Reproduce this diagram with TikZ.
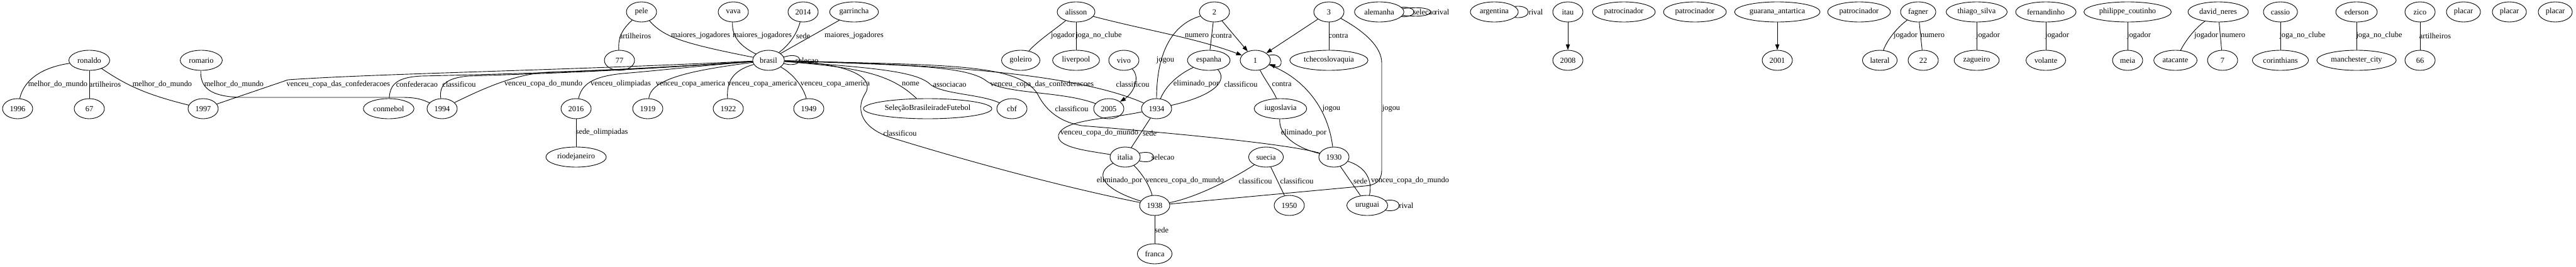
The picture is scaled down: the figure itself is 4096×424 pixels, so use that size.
\documentclass[tikz,border=0pt]{standalone}
\usepackage{fontspec}
\setmainfont{Liberation Serif}
\usetikzlibrary{shapes.geometric,arrows.meta}
\newcommand\tfont{\fontsize{12.4pt}{14pt}\selectfont}
\begin{document}
\begin{tikzpicture}[x=1pt,y=-1pt,
  n/.style={draw, ellipse, line width=0.9pt, minimum height=32pt, minimum width=48pt, inner xsep=4pt, inner ysep=1pt, font=\tfont},
  lbl/.style={font=\tfont, inner sep=0pt},
  e/.style={line width=0.9pt},
  a/.style={line width=0.9pt, -{Triangle[length=9pt,width=6.5pt]}}]
\useasboundingbox (0,0) rectangle (4096,424);
% ---------- nodes ----------
\node[n] (ronaldo) at (142,96) {ronaldo};
\node[n] (romario) at (320,96) {romario};
\node[n] (n1996) at (28,173) {1996};
\node[n] (n67) at (142,173) {67};
\node[n] (n1997) at (323,173) {1997};
\node[n] (conmebol) at (618,173) {conmebol};
\node[n] (n1994) at (703,173) {1994};
\node[n] (n2016) at (916,173) {2016};
\node[n] (rio) at (916,250) {riodejaneiro};
\node[n] (pele) at (1020,19) {pele};
\node[n] (n77) at (985,96) {77};
\node[n] (n1919) at (1030,173) {1919};
\node[n] (vava) at (1166,19) {vava};
\node[n] (n2014) at (1277,19) {2014};
\node[n] (garrincha) at (1358,19) {garrincha};
\node[n] (brasil) at (1222,96) {brasil};
\node[n] (n1922) at (1158,173) {1922};
\node[n] (n1949) at (1286,173) {1949};
\node[n] (selbr) at (1475,173) {SeleçãoBrasileiradeFutebol};
\node[n] (cbf) at (1609,173) {cbf};
\node[n] (alisson) at (1711,19) {alisson};
\node[n] (goleiro) at (1623,96) {goleiro};
\node[n] (liverpool) at (1711,96) {liverpool};
\node[n] (vivo) at (1787,96) {vivo};
\node[n] (n2005) at (1763,173) {2005};
\node[n] (n2) at (1931,19) {2};
\node[n] (n1) at (1996,96) {1};
\node[n] (espanha) at (1922,96) {espanha};
\node[n] (n1934) at (1839,173) {1934};
\node[n] (italia) at (1789,250) {italia};
\node[n] (n1938) at (1836,327) {1938};
\node[n] (franca) at (1836,404) {franca};
\node[n] (iugoslavia) at (2036,173) {iugoslavia};
\node[n] (suecia) at (2013,250) {suecia};
\node[n] (n1950) at (2050,327) {1950};
\node[n] (n3) at (2113,19) {3};
\node[n] (tcheco) at (2113,96) {tchecoslovaquia};
\node[n] (n1930) at (2121,250) {1930};
\node[n] (uruguai) at (2174,327) {uruguai};
\node[n] (alemanha) at (2193,19) {alemanha};
\node[n] (argentina) at (2376,19) {argentina};
\node[n] (itau) at (2493,19) {itau};
\node[n] (n2008) at (2493,96) {2008};
\node[n] (patro1) at (2582,19) {patrocinador};
\node[n] (patro2) at (2695,19) {patrocinador};
\node[n] (guarana) at (2826,19) {guarana\_antartica};
\node[n] (n2001) at (2826,96) {2001};
\node[n] (patro3) at (2956,19) {patrocinador};
\node[n] (fagner) at (3050,19) {fagner};
\node[n] (lateral) at (2989,96) {lateral};
\node[n] (n22) at (3058,96) {22};
\node[n] (thiago) at (3143,19) {thiago\_silva};
\node[n] (zagueiro) at (3143,96) {zagueiro};
\node[n] (fernandinho) at (3253,19) {fernandinho};
\node[n] (volante) at (3253,96) {volante};
\node[n] (philippe) at (3383,19) {philippe\_coutinho};
\node[n] (meia) at (3383,96) {meia};
\node[n] (david) at (3527,19) {david\_neres};
\node[n] (atacante) at (3459,96) {atacante};
\node[n] (n7) at (3534,96) {7};
\node[n] (cassio) at (3626,19) {cassio};
\node[n] (corinthians) at (3626,96) {corinthians};
\node[n] (ederson) at (3747,19) {ederson};
\node[n] (mancity) at (3747,96) {manchester\_city};
\node[n] (zico) at (3848,19) {zico};
\node[n] (n66) at (3848,96) {66};
\node[n] (placar1) at (3917,19) {placar};
\node[n] (placar2) at (3990,19) {placar};
\node[n] (placar3) at (4063,19) {placar};
% ---------- edges ----------
\draw[e] (ronaldo) .. controls (50,110) and (35,140) .. (n1996);
\draw[e] (ronaldo) -- (n67);
\draw[e] (ronaldo) .. controls (200,135) and (230,150) .. (n1997);
\draw[e] (romario) .. controls (318,140) and (335,153) .. (380,155) -- (640,155) .. controls (665,155) and (675,160) .. (n1994);
\draw[e] (n1997) -- (458,127) .. controls (600,117) and (900,112) .. (brasil);
\draw[e] (conmebol) .. controls (620,135) and (630,123) .. (670,121) .. controls (850,117) and (1000,112) .. (brasil);
\draw[e] (n1994) .. controls (698,135) and (710,124) .. (745,121) .. controls (900,116) and (1000,112) .. (brasil);
\draw[e] (n1994) .. controls (770,140) and (820,118) .. (870,115) .. controls (950,112) and (1050,108) .. (brasil);
\draw[e] (n2016) .. controls (925,135) and (940,122) .. (990,117) .. controls (1050,112) and (1100,106) .. (brasil);
\draw[e] (pele) .. controls (985,50) and (983,65) .. (n77);
\draw[e] (pele) .. controls (1055,58) and (1080,68) .. (brasil);
\draw[e] (vava) .. controls (1163,60) and (1180,75) .. (brasil);
\draw[e] (n2014) .. controls (1265,60) and (1250,75) .. (brasil);
\draw[e] (garrincha) -- (brasil);
\draw[e] (brasil) .. controls (1100,112) and (1035,125) .. (n1919);
\draw[e] (brasil) .. controls (1165,112) and (1155,130) .. (n1922);
\draw[e] (brasil) .. controls (1262,118) and (1278,140) .. (n1949);
\draw[e] (brasil.12) .. controls (1280,80) and (1280,110) .. (brasil.-12);
\draw[e] (n2016) -- (rio);
\draw[e] (brasil) .. controls (1380,108) and (1420,122) .. (selbr);
\draw[e] (brasil) .. controls (1400,108) and (1460,115) .. (1480,135) .. controls (1500,150) and (1560,150) .. (cbf);
\draw[e] (brasil) .. controls (1450,104) and (1540,105) .. (1570,130) .. controls (1600,150) and (1690,145) .. (n2005);
\draw[e] (brasil) .. controls (1450,102) and (1700,112) .. (n1934);
\draw[e] (brasil) .. controls (1500,104) and (1620,100) .. (1650,150) .. controls (1665,180) and (1690,195) .. (1720,200) .. controls (1900,215) and (2050,230) .. (n1930);
\draw[e] (brasil) .. controls (1340,100) and (1395,120) .. (1375,150) .. controls (1360,175) and (1370,205) .. (1420,220) .. controls (1550,260) and (1700,300) .. (n1938);
\draw[a] (vivo) .. controls (1815,125) and (1800,150) .. (n2005);
\draw[e] (alisson) .. controls (1680,45) and (1650,65) .. (goleiro);
\draw[e] (alisson) -- (liverpool);
\draw[a] (alisson) .. controls (1830,50) and (1900,60) .. (n1);
\draw[a] (n2) -- (n1);
\draw[e] (n2) -- (espanha);
\draw[e] (n2) .. controls (1860,40) and (1839,90) .. (n1934);
\draw[a] (n3) -- (n1);
\draw[a] (n1.20) .. controls (2042,82) and (2042,112) .. (n1.-15);
\draw[e] (n1) .. controls (2010,125) and (2025,145) .. (iugoslavia);
\draw[e] (n1) .. controls (2060,118) and (2110,160) .. (n1930);
\draw[e] (n3) -- (tcheco);
\draw[e] (n3) .. controls (2170,50) and (2197,75) .. (2197,100) -- (2197,270) .. controls (2197,290) and (2185,295) .. (2170,296) -- (n1938);
\draw[e] (espanha) .. controls (1870,120) and (1852,140) .. (n1934);
\draw[e] (espanha) .. controls (1950,125) and (1940,150) .. (n1934);
\draw[e] (n1934) -- (italia);
\draw[e] (n1934) .. controls (1760,190) and (1690,190) .. (1683,215) .. controls (1680,235) and (1730,240) .. (italia);
\draw[e] (italia.15) .. controls (1842,236) and (1842,264) .. (italia.-15);
\draw[e] (italia) .. controls (1740,275) and (1750,300) .. (n1938);
\draw[e] (italia) .. controls (1815,275) and (1828,295) .. (n1938);
\draw[e] (n1938) -- (franca);
\draw[e] (suecia) .. controls (1960,285) and (1900,315) .. (n1938);
\draw[e] (suecia) -- (n1950);
\draw[e] (iugoslavia) .. controls (2033,215) and (2060,235) .. (n1930);
\draw[e] (n1930) -- (uruguai);
\draw[e] (n1930) .. controls (2170,265) and (2183,285) .. (uruguai);
\draw[e] (uruguai.15) .. controls (2232,314) and (2232,340) .. (uruguai.-15);
\draw[e] (alemanha.12) .. controls (2255,10) and (2255,28) .. (alemanha.-12);
\draw[e] (alemanha.8) .. controls (2290,6) and (2290,32) .. (alemanha.-8);
\draw[e] (argentina.15) .. controls (2437,7) and (2437,31) .. (argentina.-15);
\draw[a] (itau) -- (n2008);
\draw[a] (guarana) -- (n2001);
\draw[e] (fagner) .. controls (3015,45) and (3000,65) .. (lateral);
\draw[e] (fagner) -- (n22);
\draw[e] (thiago) -- (zagueiro);
\draw[e] (fernandinho) -- (volante);
\draw[e] (philippe) -- (meia);
\draw[e] (david) .. controls (3490,45) and (3475,65) .. (atacante);
\draw[e] (david) -- (n7);
\draw[e] (cassio) -- (corinthians);
\draw[e] (ederson) -- (mancity);
\draw[e] (zico) -- (n66);
% ---------- labels ----------
\node[lbl] (l1) at (92,134) {melhor\_do\_mundo};
\node[lbl] (l2) at (167,134) {artilheiros};
\node[lbl] (l3) at (258,134) {melhor\_do\_mundo};
\node[lbl] (l4) at (372,134) {melhor\_do\_mundo};
\node[lbl] (l5) at (538,134) {venceu\_copa\_das\_confederacoes};
\node[lbl] (l6) at (663,134) {confederacao};
\node[lbl] (l7) at (730,134) {classificou};
\node[lbl] (l8) at (864,134) {venceu\_copa\_do\_mundo};
\node[lbl] (l9) at (987,134) {venceu\_olimpiadas};
\node[lbl] (l10) at (1098,134) {venceu\_copa\_america};
\node[lbl] (l11) at (1212,134) {venceu\_copa\_america};
\node[lbl] (l12) at (1328,134) {venceu\_copa\_america};
\node[lbl] (l13) at (1010,57) {artilheiros};
\node[lbl] (l14) at (1114,57) {maiores\_jogadores};
\node[lbl] (l15) at (1212,57) {maiores\_jogadores};
\node[lbl] (l16) at (1277,57) {sede};
\node[lbl] (l17) at (1358,57) {maiores\_jogadores};
\node[lbl] (l18) at (1283,96) {selecao};
\node[lbl] (l19) at (957,211) {sede\_olimpiadas};
\node[lbl] (l20) at (1448,134) {nome};
\node[lbl] (l21) at (1510,134) {associacao};
\node[lbl] (l22) at (1657,134) {venceu\_copa\_das\_confederacoes};
\node[lbl] (l23) at (1704,173) {classificou};
\node[lbl] (l24) at (1431,212) {classificou};
\node[lbl] (l25) at (1690,57) {jogador};
\node[lbl] (l26) at (1747,57) {joga\_no\_clube};
\node[lbl] (l27) at (1903,57) {numero};
\node[lbl] (l28) at (1943,57) {contra};
\node[lbl] (l29) at (1853,96) {jogou};
\node[lbl] (l30) at (1801,134) {classificou};
\node[lbl] (l31) at (1902,134) {eliminado\_por};
\node[lbl] (l32) at (1973,134) {classificou};
\node[lbl] (l33) at (2038,134) {contra};
\node[lbl] (l34) at (1748,212) {venceu\_copa\_do\_mundo};
\node[lbl] (l35) at (1828,212) {sede};
\node[lbl] (l36) at (2073,212) {eliminado\_por};
\node[lbl] (l37) at (2117,173) {jogou};
\node[lbl] (l38) at (2212,173) {jogou};
\node[lbl] (l39) at (2128,57) {contra};
\node[lbl] (l40) at (1849,250) {selecao};
\node[lbl] (l41) at (1780,288) {eliminado\_por};
\node[lbl] (l42) at (1884,288) {venceu\_copa\_do\_mundo};
\node[lbl] (l43) at (1996,288) {classificou};
\node[lbl] (l44) at (2062,288) {classificou};
\node[lbl] (l45) at (2163,288) {sede};
\node[lbl] (l46) at (2242,288) {venceu\_copa\_do\_mundo};
\node[lbl] (l47) at (2236,327) {rival};
\node[lbl] (l48) at (1847,366) {sede};
\node[lbl] (l49) at (2265,19) {selecao};
\node[lbl] (l50) at (2293,19) {rival};
\node[lbl] (l51) at (2442,19) {rival};
\node[lbl] (l52) at (3030,57) {jogador};
\node[lbl] (l53) at (3073,57) {numero};
\node[lbl] (l54) at (3161,57) {jogador};
\node[lbl] (l55) at (3271,57) {jogador};
\node[lbl] (l56) at (3401,57) {jogador};
\node[lbl] (l57) at (3508,57) {jogador};
\node[lbl] (l58) at (3551,57) {numero};
\node[lbl] (l59) at (3661,57) {joga\_no\_clube};
\node[lbl] (l60) at (3783,57) {joga\_no\_clube};
\node[lbl] (l61) at (3872,57) {artilheiros};
\end{tikzpicture}
\end{document}
